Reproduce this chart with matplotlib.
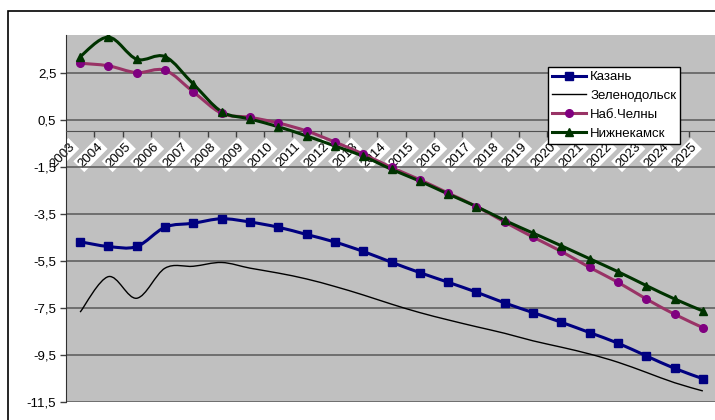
import numpy as np
import matplotlib.pyplot as plt
from matplotlib.path import Path
from matplotlib.patches import PathPatch, Rectangle
from matplotlib.lines import Line2D
from matplotlib.transforms import ScaledTranslation

plt.rcParams['font.family'] = ['Liberation Sans', 'DejaVu Sans']

years = [str(y) for y in range(2003, 2026)]
kazan = [-4.69, -4.89, -4.89, -4.07, -3.90, -3.71, -3.85, -4.07, -4.38, -4.70,
         -5.10, -5.56, -6.00, -6.41, -6.83, -7.29, -7.70, -8.11, -8.55, -9.00,
         -9.54, -10.07, -10.51]
zelenodolsk = [-7.68, -6.17, -7.09, -5.81, -5.73, -5.57, -5.81, -6.02, -6.27, -6.59,
               -6.95, -7.34, -7.70, -8.01, -8.30, -8.58, -8.90, -9.17, -9.46, -9.81,
               -10.24, -10.68, -11.03]
chelny = [2.90, 2.79, 2.50, 2.60, 1.68, 0.77, 0.60, 0.36, 0.02, -0.45,
          -0.96, -1.53, -2.05, -2.62, -3.19, -3.85, -4.49, -5.10, -5.78, -6.41,
          -7.12, -7.77, -8.34]
nizhnekamsk = [3.18, 4.01, 3.07, 3.18, 2.01, 0.84, 0.53, 0.20, -0.19, -0.62,
               -1.05, -1.61, -2.11, -2.66, -3.19, -3.78, -4.32, -4.86, -5.41, -5.96,
               -6.55, -7.12, -7.63]
yticks = [-11.5, -9.5, -7.5, -5.5, -3.5, -1.5, 0.5, 2.5]
ytick_labels = ['-11,5', '-9,5', '-7,5', '-5,5', '-3,5', '-1,5', '0,5', '2,5']


def smooth_path(xs, ys):
    # lissage facon Excel (Catmull-Rom -> Bezier)
    pts = np.column_stack([xs, ys])
    verts = [pts[0]]
    codes = [Path.MOVETO]
    n = len(pts)
    for i in range(n - 1):
        p0 = pts[max(i - 1, 0)]
        p1 = pts[i]
        p2 = pts[i + 1]
        p3 = pts[min(i + 2, n - 1)]
        verts += [p1 + (p2 - p0) / 6, p2 - (p3 - p1) / 6, p2]
        codes += [Path.CURVE4] * 3
    return Path(verts, codes)


fig = plt.figure(figsize=(7.15, 4.2), dpi=100)
ax = fig.add_axes([66 / 715, 18 / 420, 651 / 715, 367 / 420])
ax.set_facecolor('#C0C0C0')

x = np.arange(len(years))
series = [
    ("Казань", kazan, '#000080', 's', '#000080', 2.2),
    ("Зеленодольск", zelenodolsk, 'black', None, None, 1.0),
    ("Наб.Челны", chelny, '#993366', 'o', '#800080', 2.2),
    ("Нижнекамск", nizhnekamsk, '#003300', '^', '#003300', 2.2),
]
handles = []
for name, vals, col, mk, mcol, lw in series:
    ax.add_patch(PathPatch(smooth_path(x, vals), facecolor='none', edgecolor=col,
                           lw=lw, zorder=3))
    if mk:
        ax.plot(x, vals, linestyle='none', marker=mk, color=mcol, markersize=5.5, zorder=4)
    handles.append(Line2D([], [], color=col, lw=lw, marker=mk, markerfacecolor=mcol,
                          markeredgecolor=mcol, markersize=5.5))

ax.set_xlim(-0.5, 22.5)
ax.set_ylim(-11.5, 4.1)

ax.set_yticks(yticks)
ax.set_yticklabels(ytick_labels, fontsize=9.5)
ax.tick_params(axis='y', length=4, width=1, pad=3, color='#404040')
ax.yaxis.grid(True, color='#606060', lw=1.2)
ax.set_axisbelow(True)

ax.spines['bottom'].set_position(('data', 0))
ax.spines['bottom'].set_color('#505050')
ax.spines['left'].set_color('#303030')
ax.spines['top'].set_visible(False)
ax.spines['right'].set_visible(False)

ax.set_xticks(x)
ax.set_xticklabels(years, fontsize=9.5, rotation=45, ha='center', va='center',
                   rotation_mode='anchor')
ax.set_xticks(np.arange(0.5, 22, 1), minor=True)
ax.tick_params(axis='x', which='major', length=0, pad=17)
ax.tick_params(axis='x', which='minor', length=4, width=1, color='#404040')
shift = ScaledTranslation(-18 / 100, 0, fig.dpi_scale_trans)
for lbl in ax.get_xticklabels():
    lbl.set_bbox(dict(facecolor='white', edgecolor='none', pad=1.2))
    lbl.set_transform(lbl.get_transform() + shift)

leg = fig.legend(handles, [s[0] for s in series], loc='upper left',
                 bbox_to_anchor=(548 / 715, 1 - 67 / 420), fontsize=9.5,
                 frameon=True, fancybox=False, edgecolor='black', framealpha=1,
                 handlelength=2.6, handletextpad=0.3, labelspacing=0.5,
                 borderpad=0.3, borderaxespad=0)
leg.get_frame().set_linewidth(1)

fig.add_artist(Rectangle((8 / 715, -0.1), 1.0, 1.1 - 11 / 420, transform=fig.transFigure,
                         fill=False, edgecolor='black', lw=1.2))

fig.savefig('out.png', dpi=100)
